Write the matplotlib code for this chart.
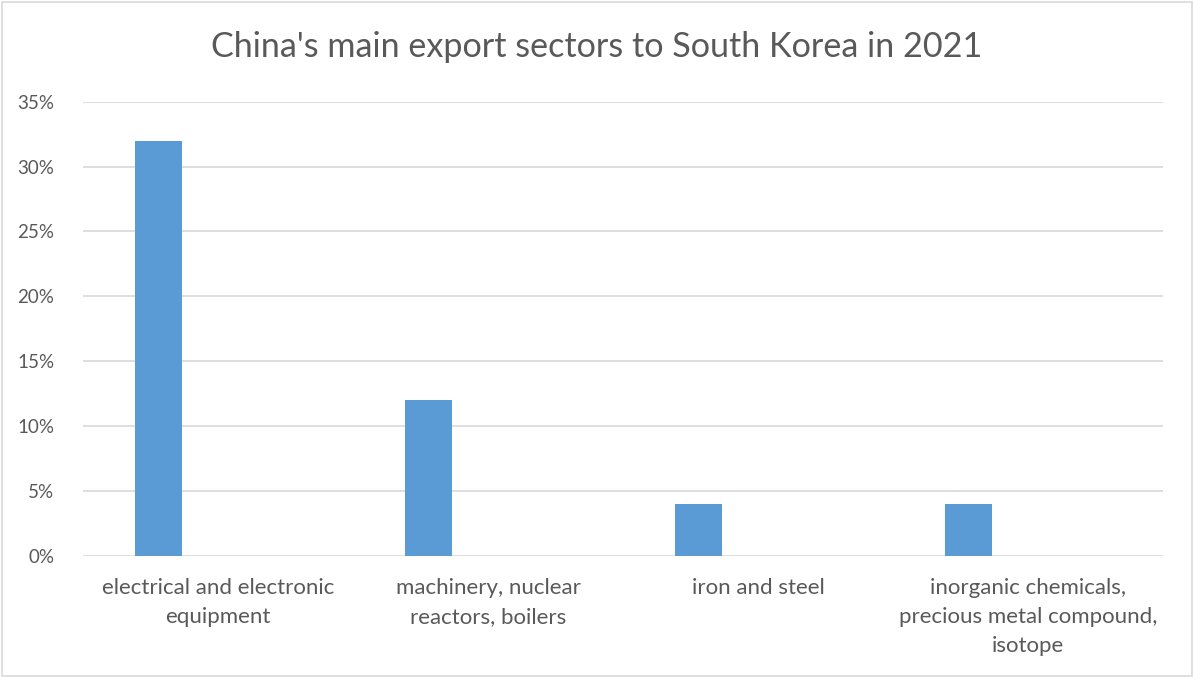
import matplotlib
matplotlib.use("Agg")
import matplotlib.pyplot as plt
from matplotlib.patches import Rectangle
import numpy as np

categories = ["electrical and electronic\nequipment",
              "machinery, nuclear\nreactors, boilers",
              "iron and steel",
              "inorganic chemicals,\nprecious metal compound,\nisotope"]
values = [0.32, 0.12, 0.04, 0.04]
yticks = [0, 0.05, 0.10, 0.15, 0.20, 0.25, 0.30, 0.35]
ytick_labels = ["0%", "5%", "10%", "15%", "20%", "25%", "30%", "35%"]
title = "China's main export sectors to South Korea in 2021"

plt.rcParams['font.family'] = ['Lato', 'DejaVu Sans']
W, H = 1193, 677
fig = plt.figure(figsize=(W/100, H/100), dpi=100)
ax = fig.add_axes([83.3/W, 1-555.7/H, (1163-83.3)/W, (555.7-101.7)/H])

x = np.arange(len(categories))
ax.bar(x - 0.222, values, width=0.174, color='#5b9bd5', zorder=3)
ax.set_xlim(-0.5, len(categories) - 0.5)
ax.set_ylim(0, 0.35)
ax.set_yticks(yticks)
ax.set_yticklabels(ytick_labels, fontsize=13.5, color='#595959')
ax.set_xticks(x)
ax.set_xticklabels(categories, fontsize=16, color='#595959', linespacing=1.55, va='top')
ax.tick_params(axis='both', length=0)
ax.tick_params(axis='y', pad=21)
ax.tick_params(axis='x', pad=16)
ax.grid(axis='y', color='#d9d9d9', linewidth=1.2, zorder=0)
for s in ax.spines.values():
    s.set_visible(False)

fig.text(0.5, 1-47/H, title, ha='center', va='center', fontsize=24.6, color='#595959')
fig.patches.append(Rectangle((1.5/W, 1.5/H), 1-3/W, 1-3/H, transform=fig.transFigure,
                             fill=False, edgecolor='#d9d9d9', linewidth=1.2))
fig.savefig("out.png", dpi=100)
